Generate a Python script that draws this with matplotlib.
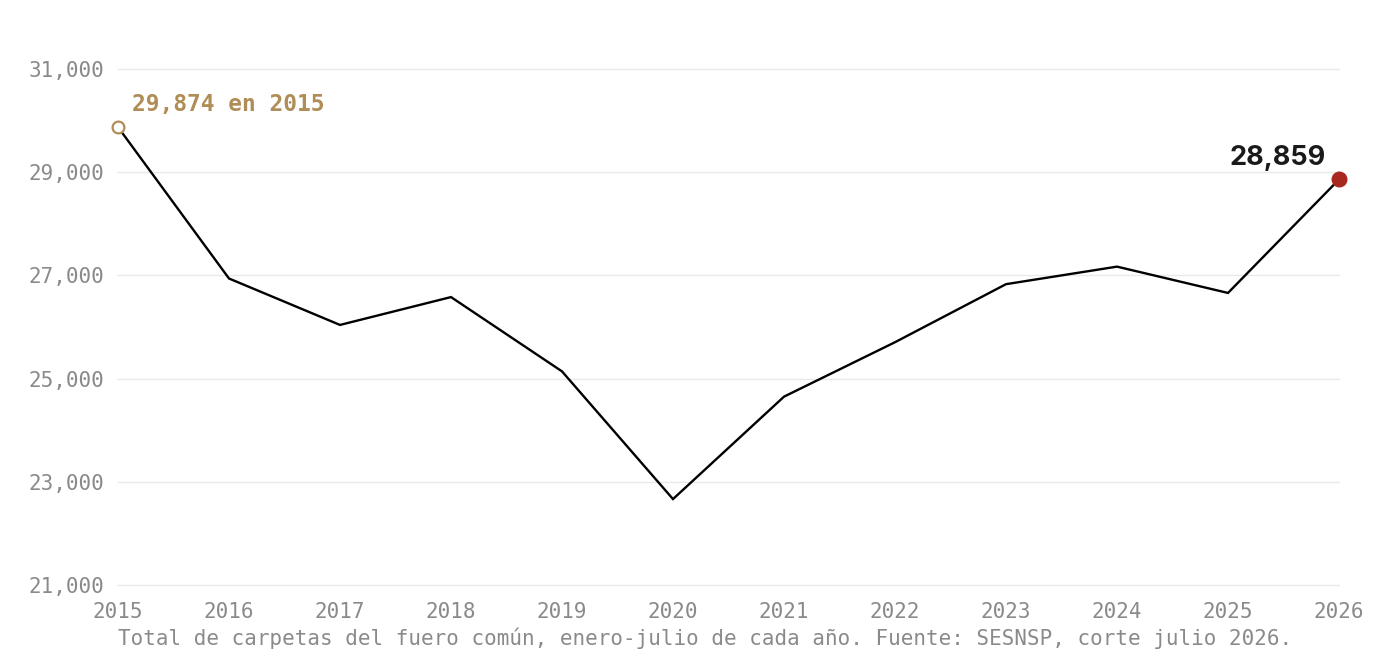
import matplotlib
matplotlib.use("Agg")
import matplotlib.pyplot as plt
from matplotlib.ticker import FuncFormatter

# Carpetas de investigación, enero-julio de cada año
years = [2015, 2016, 2017, 2018, 2019, 2020, 2021, 2022, 2023, 2024, 2025, 2026]
carpetas = [29874, 26940, 26040, 26580, 25140, 22665, 24650, 25705, 26830, 27170, 26660, 28859]
y_ticks = [21000, 23000, 25000, 27000, 29000, 31000]

caption = ("Total de carpetas del fuero común, enero-julio de cada año. "
           "Fuente: SESNSP, corte julio 2026.")

MONO = ["DejaVu Sans Mono"]
GREY = "#8a8a8a"
GOLD = "#b08d57"
RED = "#a8281f"

W, H = 1400, 660
fig = plt.figure(figsize=(W / 100, H / 100), dpi=100)
ax = fig.add_axes([118 / W, 1 - 585 / H, (1339 - 118) / W, (585 - 69) / H])

ax.plot(years, carpetas, color="black", linewidth=1.7, zorder=3, solid_joinstyle="miter")

# primer y último punto
ax.plot(years[0], carpetas[0], marker="o", markersize=8.5, markerfacecolor="white",
        markeredgecolor=GOLD, markeredgewidth=1.6, clip_on=False, zorder=4)
ax.plot(years[-1], carpetas[-1], marker="o", markersize=10.5, color=RED,
        clip_on=False, zorder=4)

ax.annotate(f"{carpetas[0]:,} en {years[0]}", xy=(years[0], carpetas[0]),
            xytext=(14, 16), textcoords="offset pixels", ha="left", va="baseline",
            fontsize=16.5, fontweight="bold", color=GOLD, family=MONO)
ax.annotate(f"{carpetas[-1]:,}", xy=(years[-1], carpetas[-1]),
            xytext=(-13, 14), textcoords="offset pixels", ha="right", va="baseline",
            fontsize=19.5, fontweight="bold", color="#1a1a1a",
            family=["Inter", "DejaVu Sans"])

ax.set_xlim(years[0], years[-1])
ax.set_ylim(y_ticks[0], y_ticks[-1])
ax.set_xticks(years)
ax.set_yticks(y_ticks)
ax.yaxis.set_major_formatter(FuncFormatter(lambda v, p: f"{int(v):,}"))

ax.grid(axis="y", color="#e9e9e9", linewidth=1.0, zorder=0)
ax.grid(axis="x", visible=False)
for gl in ax.get_ygridlines():
    gl.set_clip_on(False)
for s in ax.spines.values():
    s.set_visible(False)
ax.tick_params(axis="both", length=0, colors=GREY, labelsize=15)
ax.tick_params(axis="y", pad=10)
ax.tick_params(axis="x", pad=12)
for lab in ax.get_xticklabels() + ax.get_yticklabels():
    lab.set_family(MONO)

fig.text(118 / W, 1 - 638 / H, caption, ha="left", va="center",
         fontsize=15, color=GREY, family=MONO)

fig.savefig("out.png", dpi=100, facecolor="white")
